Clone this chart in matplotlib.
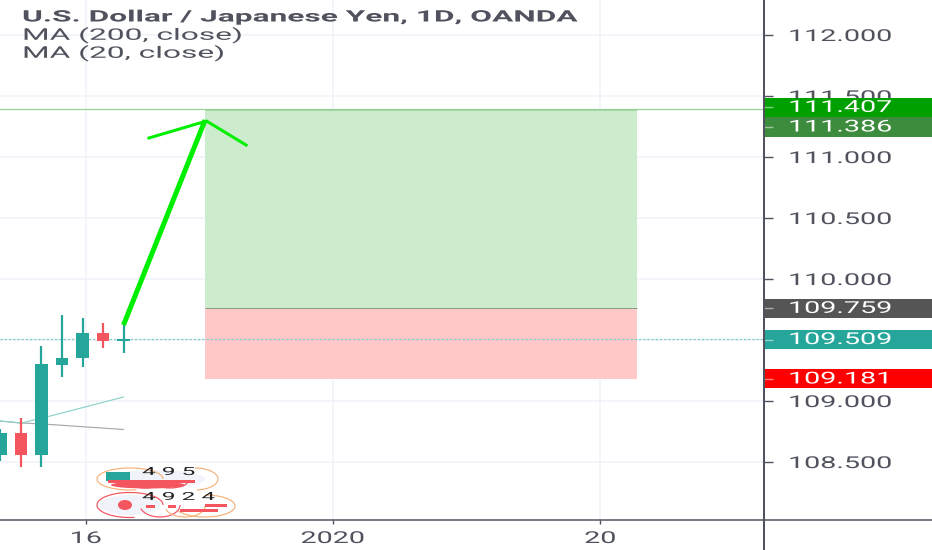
import matplotlib
matplotlib.use("Agg")
import matplotlib.pyplot as plt
import matplotlib.patheffects as pe
from matplotlib.lines import Line2D
from matplotlib.patches import Arc, Ellipse, Rectangle
from matplotlib.transforms import Affine2D

plt.rcParams['font.family'] = ['Roboto', 'DejaVu Sans']

# Candles (bar index, OHLC)
bar_index = [0, 1, 2, 3, 4, 5, 6]
opens = [108.557, 108.738, 108.557, 109.295, 109.352, 109.557, 109.492]
highs = [108.770, 108.861, 109.451, 109.705, 109.680, 109.639, 109.623]
lows = [108.508, 108.459, 108.459, 109.197, 109.279, 109.434, 109.393]
closes = [108.738, 108.557, 109.303, 109.352, 109.557, 109.492, 109.509]

# Moving averages
ma_x = [0, 1, 2.05, 6]
ma20 = [108.836, 108.820, 108.861, 109.033]
ma200 = [108.836, 108.820, 108.812, 108.767]

# Long position tool
position_x = [9.98, 31.05]
entry = 109.759
target = 111.386
stop = 109.181
last_price = 109.509

# Hand drawn arrow
shaft_x = [6, 9.98]
shaft_y = [109.623, 111.303]
head_x = [7.24, 10.05, 11.98]
head_y = [111.156, 111.295, 111.098]

# Axes
y_ticks = [108.5, 109.0, 109.5, 110.0, 110.5, 111.0, 111.5, 112.0]
y_labels = ["108.500", "109.000", "109.500", "110.000", "110.500", "111.000", "111.500", "112.000"]
x_ticks = [4.17, 16.2, 29.25]
x_labels = ["16", "2020", "20"]

# Coloured price labels
box_centres = [111.407, 111.246, 109.759, 109.504, 109.181]
box_labels = ["111.407", "111.386", "109.759", "109.509", "109.181"]
box_colors = ["#00a000", "#3d8c3d", "#555555", "#26a69a", "#ff0000"]

title_lines = ["U.S. Dollar / Japanese Yen, 1D, OANDA", "MA (200, close)", "MA (20, close)"]

GREY = "#50535e"
GRID = "#f0f3fa"
TEAL = "#26a69a"
RED = "#f4555f"
ORANGE = "#f7b27a"
px = 72 / 100


class Stretch(pe.AbstractPathEffect):
    # the reference is squashed vertically, so widen the glyphs to match
    def __init__(self, sx=1.75, center=False):
        super().__init__()
        self.sx = sx
        self.center = center

    def draw_path(self, renderer, gc, tpath, affine, rgbFace=None):
        cx = 0
        if self.center:
            ext = tpath.get_extents()
            cx = (ext.x0 + ext.x1) / 2
        tr = Affine2D().translate(-cx, 0).scale(self.sx, 1).translate(cx, 0)
        renderer.draw_path(gc, tpath, tr + affine, rgbFace)


fig = plt.figure(figsize=(9.32, 5.5), dpi=100)
ax = fig.add_axes([0, 30 / 550, 764 / 932, 520 / 550])
ax.set_xlim(-0.024, 37.24)
ax.set_ylim(108.025, 112.287)
for s in ax.spines.values():
    s.set_visible(False)

ax.yaxis.tick_right()
ax.set_yticks(y_ticks)
ax.set_yticklabels(y_labels, fontsize=11.8, color=GREY)
ax.set_xticks(x_ticks)
ax.set_xticklabels(x_labels, fontsize=11.8, color=GREY)
ax.tick_params(axis='y', length=9 * px, width=1.4 * px, color=GREY, pad=15 * px)
ax.tick_params(axis='x', length=4 * px, width=1.4 * px, color=GREY, pad=7 * px)
for lab in ax.get_yticklabels():
    lab.set_path_effects([Stretch()])
for lab in ax.get_xticklabels():
    lab.set_path_effects([Stretch(center=True)])
ax.grid(color=GRID, lw=1.5 * px)
ax.set_axisbelow(True)

# position boxes
ax.fill_between(position_x, entry, target, color="#cdeccd", lw=0, zorder=1)
ax.fill_between(position_x, stop, entry, color="#ffc9c9", lw=0, zorder=1)
ax.hlines(target, *position_x, color="#a5d6a5", lw=1 * px, zorder=1.5)
ax.hlines(entry, *position_x, color="#8a9a8a", lw=1 * px, zorder=1.5)
ax.axhline(target + 0.005, color="#93d393", lw=1.2 * px, zorder=1.5)
ax.axhline(last_price, color="#7fcfc6", lw=1.2 * px, ls=(0, (2, 1.5)), zorder=1.6)

# moving averages
ax.plot(ma_x, ma200, color="#a9a9b0", lw=1.2 * px, zorder=2)
ax.plot(ma_x, ma20, color="#8fd3cb", lw=1.2 * px, zorder=2)

# candles
for i, o, h, l, c in zip(bar_index, opens, highs, lows, closes):
    col = TEAL if c >= o else RED
    ax.vlines(i, l, h, color=col, lw=2.2 * px, zorder=3)
    ax.bar(i, abs(c - o), bottom=min(o, c), width=0.6, color=col, lw=0, zorder=3)

# arrow
ax.plot(shaft_x, shaft_y, color="#00ee00", lw=5 * px, zorder=4, solid_capstyle="butt")
ax.plot(head_x, head_y, color="#00ee00", lw=3 * px, zorder=4, solid_joinstyle="miter")

# price scale panel
panel = fig.add_axes([764 / 932, 30 / 550, 168 / 932, 520 / 550], zorder=3)
panel.patch.set_visible(False)
panel.set_xlim(0, 168)
panel.set_ylim(ax.get_ylim())
panel.set_xticks([])
panel.set_yticks([])
for s in panel.spines.values():
    s.set_visible(False)
panel.barh(box_centres, 168, height=0.156, left=0, color=box_colors, lw=0)
panel.hlines(box_centres, 0, 9, color="white", alpha=0.5, lw=1.4 * px)
for v, t in zip(box_centres, box_labels):
    panel.text(24, v, t, color="white", fontsize=11.8, va="center", ha="left",
               path_effects=[Stretch()])

# axis lines
fig.add_artist(Line2D([0, 1], [30 / 550, 30 / 550], color=GREY, lw=1.5 * px, zorder=5))
fig.add_artist(Line2D([764 / 932, 764 / 932], [0, 1], color=GREY, lw=2 * px, zorder=5))

# legend text
for y, line, weight in zip([17, 35, 53], title_lines, ["bold", "normal", "normal"]):
    fig.text(22 / 932, 1 - y / 550, line, color=GREY, fontsize=11.4, fontweight=weight,
             va="center", ha="left", path_effects=[Stretch(2.0)])

# event badges at the bottom, pixel layout
deco = fig.add_axes([0, 0, 1, 1], zorder=4)
deco.patch.set_visible(False)
deco.axis("off")
deco.set_xlim(0, 932)
deco.set_ylim(550, 0)
deco.add_patch(Ellipse((155, 479), 100, 18, color=GRID, lw=0))
deco.add_patch(Ellipse((130, 505), 60, 20, color=GRID, lw=0))
badge_arcs = [(130, 479, 66, 22, 60, 360, ORANGE), (195, 479, 46, 22, 270, 80, ORANGE),
              (145, 481, 36, 14, 0, 180, RED), (170, 481, 36, 14, 0, 180, RED),
              (130, 505, 66, 25, 70, 360, RED), (160, 505, 40, 24, 0, 170, RED),
              (185, 506, 40, 22, 0, 170, ORANGE), (205, 506, 60, 22, 270, 170, ORANGE)]
for cx, cy, w, h, a0, a1, col in badge_arcs:
    deco.add_patch(Arc((cx, cy), w, h, theta1=a0, theta2=a1, ec=col, lw=1.2 * px))
deco.add_patch(Rectangle((106, 472), 24, 9, color=TEAL, lw=0))
deco.add_patch(Rectangle((108, 480), 87, 3, color=RED, lw=0))
deco.add_patch(Ellipse((148, 485), 74, 7, color=RED, lw=0))
deco.add_patch(Ellipse((125, 505), 14, 10, color=RED, lw=0))
deco.add_patch(Rectangle((146, 505), 9, 3, color=RED, lw=0))
deco.add_patch(Rectangle((168, 505), 8, 3, color=RED, lw=0))
deco.add_patch(Rectangle((205, 504), 22, 3, color=RED, lw=0))
deco.add_patch(Rectangle((180, 509), 38, 3, color=RED, lw=0))
deco.text(142, 472, "4 9 5", fontsize=8, color="#222222", va="center", ha="left", path_effects=[Stretch(2.2)])
deco.text(142, 497, "4 9 2 4", fontsize=8, color="#222222", va="center", ha="left", path_effects=[Stretch(2.2)])

fig.savefig("out.png", dpi=100)
